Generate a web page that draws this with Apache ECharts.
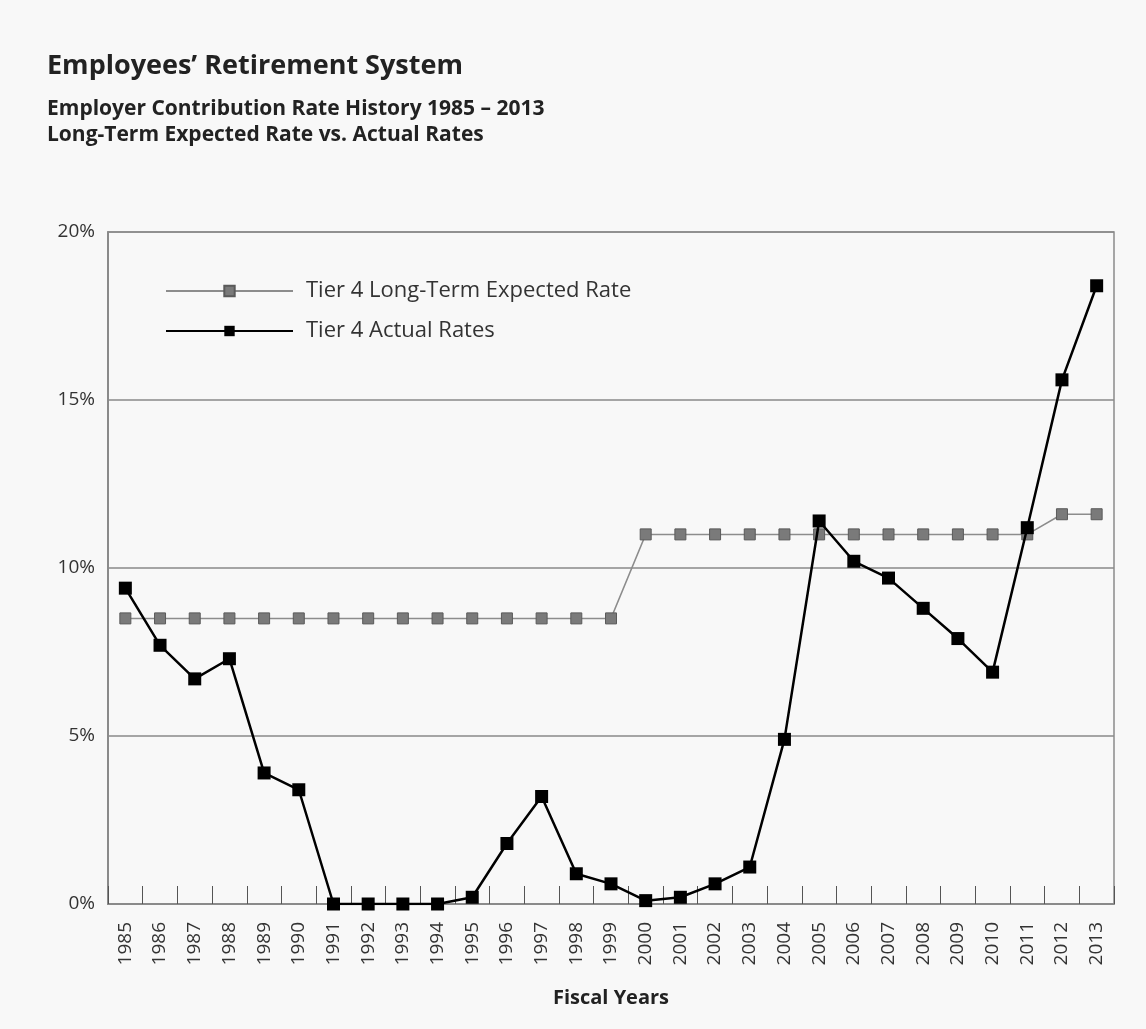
<!DOCTYPE html>
<html>
<head>
<meta charset="utf-8">
<title>Employees' Retirement System</title>
<script src="https://cdn.jsdelivr.net/npm/echarts@6/dist/echarts.min.js"></script>
<style>
  html, body { margin: 0; padding: 0; background: #f8f8f8; }
  #chart { width: 1146px; height: 1029px; }
</style>
</head>
<body>
<div id="chart"></div>
<script>
// fiscal years on the x axis
const years = ['1985','1986','1987','1988','1989','1990','1991','1992','1993','1994',
  '1995','1996','1997','1998','1999','2000','2001','2002','2003','2004',
  '2005','2006','2007','2008','2009','2010','2011','2012','2013'];

// rates in percent
const expectedRate = [8.5, 8.5, 8.5, 8.5, 8.5, 8.5, 8.5, 8.5, 8.5, 8.5,
  8.5, 8.5, 8.5, 8.5, 8.5, 11, 11, 11, 11, 11,
  11, 11, 11, 11, 11, 11, 11, 11.6, 11.6];
const actualRate = [9.4, 7.7, 6.7, 7.3, 3.9, 3.4, 0, 0, 0, 0,
  0.2, 1.8, 3.2, 0.9, 0.6, 0.1, 0.2, 0.6, 1.1, 4.9,
  11.4, 10.2, 9.7, 8.8, 7.9, 6.9, 11.2, 15.6, 18.4];

const yTicks = [0, 5, 10, 15, 20];

const font = '"Open Sans", "Noto Sans", sans-serif';
const myChart = echarts.init(document.getElementById('chart'));

const option = {
  backgroundColor: '#f8f8f8',
  animation: false,
  textStyle: { fontFamily: font },
  title: [
    {
      text: 'Employees\u2019 Retirement System',
      left: 42, top: 48,
      textStyle: { fontSize: 27, fontWeight: 'bold', color: '#222', fontFamily: font }
    },
    {
      text: 'Employer Contribution Rate History 1985 \u2013 2013',
      left: 42, top: 94,
      textStyle: { fontSize: 21, fontWeight: 'bold', color: '#222', fontFamily: font }
    },
    {
      text: 'Long-Term Expected Rate vs. Actual Rates',
      left: 42, top: 120,
      textStyle: { fontSize: 21, fontWeight: 'bold', color: '#222', fontFamily: font }
    }
  ],
  legend: {
    orient: 'vertical',
    left: 160, top: 275,
    itemWidth: 127, itemHeight: 13,
    itemGap: 18,
    textStyle: { fontSize: 22, color: '#333', fontFamily: font, padding: [0, 0, 0, 8] },
    data: ['Tier 4 Long-Term Expected Rate', 'Tier 4 Actual Rates']
  },
  grid: {
    left: 108, right: 32, top: 232, bottom: 125,
    show: true, borderColor: '#8a8a8a', borderWidth: 1.5,
    backgroundColor: 'transparent'
  },
  xAxis: {
    type: 'category',
    data: years,
    boundaryGap: true,
    name: 'Fiscal Years',
    nameLocation: 'middle',
    nameGap: 84,
    nameTextStyle: { fontSize: 20, fontWeight: 'bold', color: '#222', fontFamily: font },
    axisLine: { lineStyle: { color: '#8a8a8a', width: 2 } },
    axisTick: {
      show: true, inside: true, length: 18, interval: 0, alignWithLabel: false,
      lineStyle: { color: '#555', width: 1 }
    },
    axisLabel: { interval: 0, rotate: 90, fontSize: 19, color: '#333', margin: 18, fontFamily: font }
  },
  yAxis: {
    type: 'value',
    min: yTicks[0], max: yTicks[yTicks.length - 1], interval: 5,
    axisLine: { show: true, lineStyle: { color: '#8a8a8a', width: 2 } },
    axisTick: { show: false },
    axisLabel: { formatter: '{value}%', fontSize: 19, color: '#333', margin: 13, fontFamily: font },
    splitLine: { lineStyle: { color: '#8a8a8a', width: 1.5 } }
  },
  series: [
    {
      name: 'Tier 4 Long-Term Expected Rate',
      type: 'line',
      data: expectedRate,
      symbol: 'rect',
      symbolSize: 11,
      lineStyle: { color: '#8c8c8c', width: 1.5 },
      itemStyle: { color: '#7a7a7a', borderColor: '#5a5a5a', borderWidth: 1 },
      z: 2
    },
    {
      name: 'Tier 4 Actual Rates',
      type: 'line',
      data: actualRate,
      symbol: 'rect',
      symbolSize: 13,
      lineStyle: { color: '#000', width: 2.5 },
      itemStyle: { color: '#000', borderColor: '#000', borderWidth: 0 },
      z: 3
    }
  ]
};

myChart.setOption(option);
</script>
</body>
</html>
